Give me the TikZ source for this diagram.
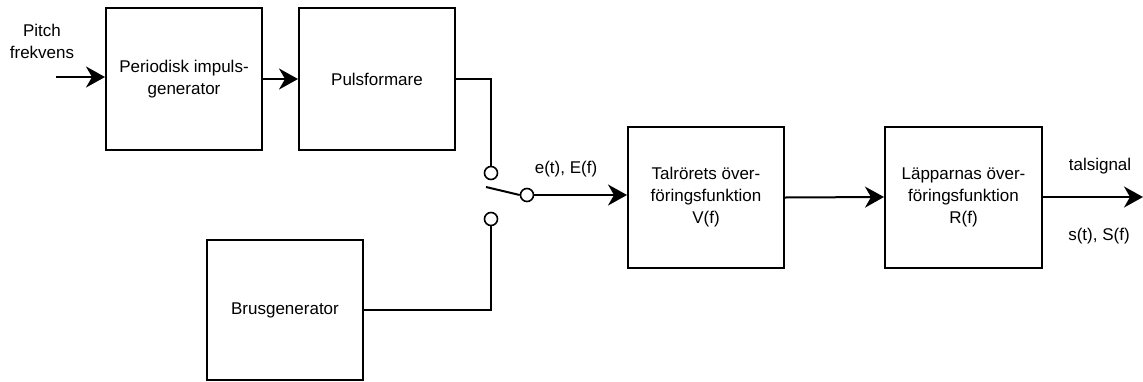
\documentclass[tikz,border=0pt]{standalone}
\usepackage{fontspec}
\setmainfont{Liberation Sans}
\usetikzlibrary{arrows.meta}
\begin{document}
\begin{tikzpicture}[x=1pt,y=-1pt,
  box/.style={draw,line width=2pt,minimum width=156pt,minimum height=142pt,align=center,inner sep=0pt,font=\fontsize{17}{22}\selectfont},
  txt/.style={align=center,inner sep=0pt,font=\fontsize{17}{22}\selectfont},
  wire/.style={line width=2pt},
  arr/.style={line width=2pt,-{Stealth[length=19pt,width=21pt,inset=6pt]}},
  term/.style={circle,draw,line width=1.6pt,minimum size=13pt,inner sep=0pt,fill=white}]
\useasboundingbox (0,0) rectangle (1143,381);
\node[box] (b1) at (184,79) {\raisebox{-6pt}{\begin{tabular}{@{}c@{}}Periodisk impuls-\\generator\end{tabular}}};
\node[box] (b2) at (377,79) {Pulsformare};
\node[box,minimum height=140pt] (br) at (285,310) {Brusgenerator};
\node[box,minimum height=141pt] (b3) at (706,197.5) {Talrörets över-\\föringsfunktion\\V(f)};
\node[box,minimum height=141pt,minimum width=157pt] (b4) at (963.5,197) {Läpparnas över-\\föringsfunktion\\R(f)};
\node[term] (s1) at (491,173) {};
\node[term] (s2) at (491,219) {};
\node[term] (so) at (527,195) {};
\node[txt] (pitch) at (42,41) {Pitch\\frekvens};
\node[txt] (ef) at (566,169) {e(t), E(f)};
\node[txt] (ts) at (1100,166) {talsignal};
\node[txt] (sf) at (1099,236) {s(t), S(f)};
\coordinate (pin) at (56,77);
\coordinate (lv) at (486,187);
\coordinate (out) at (1143,197);
\draw[arr] (pin) -- (pin -| b1.west);
\draw[arr] (b1.east) -- (b2.west);
\draw[wire] (b2.east) -| (s1.north);
\draw[wire] (br.east) -| (s2.south);
\draw[wire] (lv) -- (so.west);
\draw[arr] (so.east) -- (so.east -| b3.west);
\draw[arr] (b3.east) -- (b4.west);
\draw[arr] (b4.east) -- (out);
\end{tikzpicture}
\end{document}
